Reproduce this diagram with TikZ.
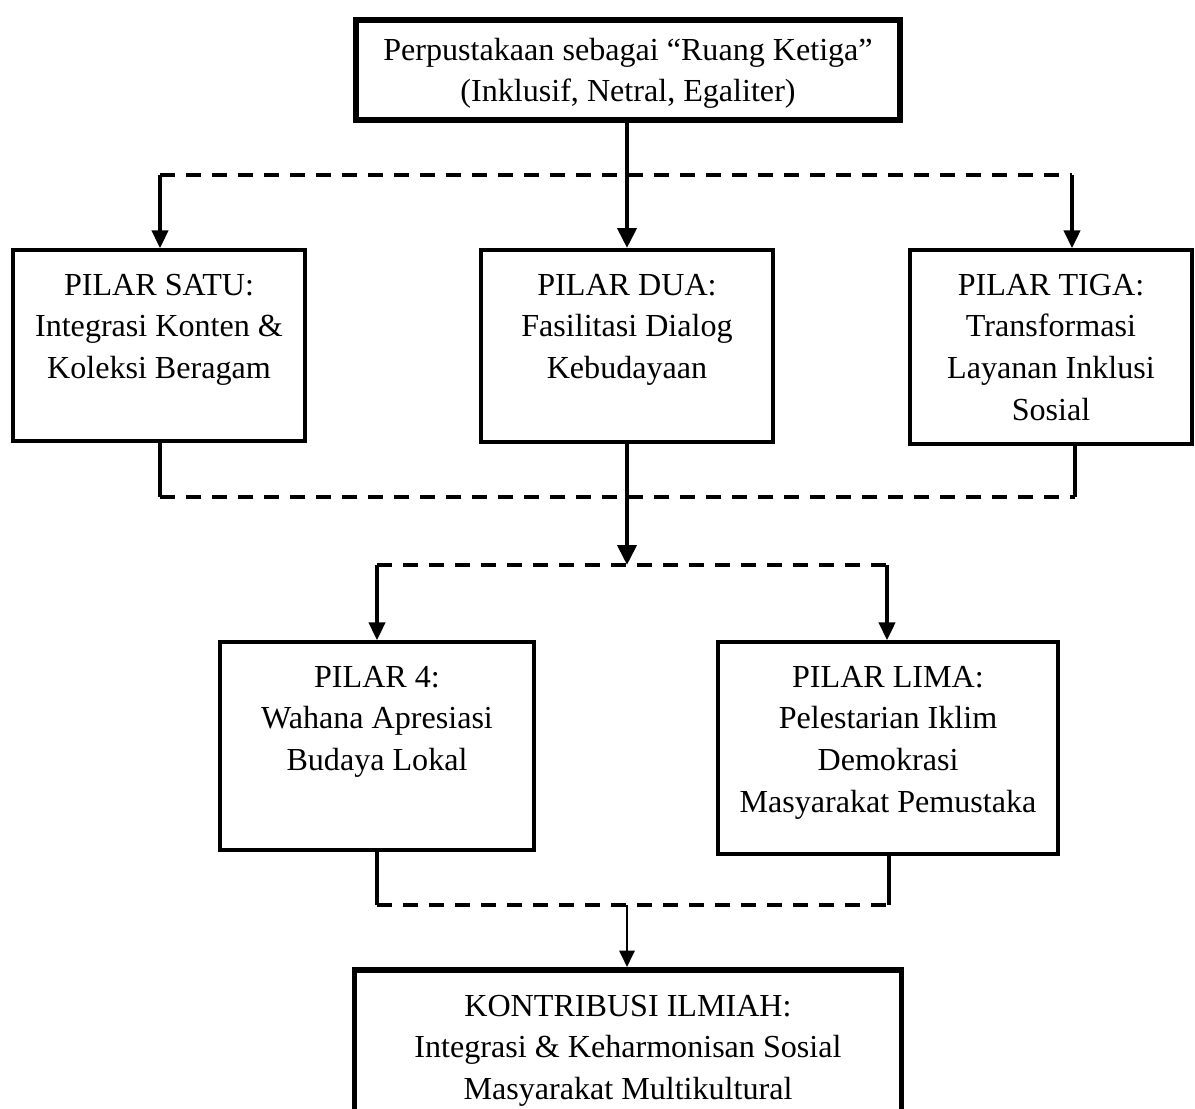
\documentclass[tikz,border=0pt]{standalone}
\usepackage{fontspec}
\setmainfont{Liberation Serif}
\usepackage{tikz}
\usetikzlibrary{calc,arrows.meta,positioning}
\newcommand{\px}[1]{\dimexpr0.015cm*#1\relax}
\newcommand{\boxtext}[4]{\parbox[t][\px{#2}][t]{\px{#1}}{\centering\vspace*{\px{#3}}\strut#4}}

\begin{document}
\begin{tikzpicture}[x=0.015cm,y=-0.015cm]
    \tikzset{box/.style={draw,line width=1.7pt,inner sep=0pt,anchor=north,font=\fontsize{13.7}{17.8}\selectfont},
        mainbox/.style={box,line width=2.5pt},
        bus/.style={line width=1.6pt,dash pattern=on 6.4pt off 4.7pt},
        riser/.style={line width=1.3pt},
        drop/.style={line width=1.3pt,-{Triangle[width=7pt,length=7.5pt]}},
        trunk/.style={line width=1.9pt,-{Triangle[width=8pt,length=8.5pt]}},
        feed/.style={line width=1pt,-{Triangle[width=6.5pt,length=7pt]}},}
    \useasboundingbox (0,0) rectangle (1195,1109);
    \node[mainbox] (ruang) at (628,17) {\boxtext{544}{100}{11}{Perpustakaan sebagai “Ruang Ketiga”\\(Inklusif, Netral, Egaliter)}};
    \node[box] (p1) at (159,248) {\boxtext{292}{191}{16}{PILAR SATU:\\Integrasi Konten \&\\Koleksi Beragam}};
    \node[box] (p2) at (627,248) {\boxtext{292}{192}{16}{PILAR DUA:\\Fasilitasi Dialog\\Kebudayaan}};
    \node[box] (p3) at (1051,248) {\boxtext{282}{194}{16}{PILAR TIGA:\\Transformasi\\Layanan Inklusi\\Sosial}};
    \node[box] (p4) at (377,640) {\boxtext{314}{208}{16}{PILAR 4:\\Wahana Apresiasi\\Budaya Lokal}};
    \node[box] (p5) at (888,640) {\boxtext{340}{212}{16}{PILAR LIMA:\\Pelestarian Iklim\\Demokrasi\\Masyarakat Pemustaka}};
    \node[mainbox] (kontrib) at (628,967) {\boxtext{547}{160}{17}{KONTRIBUSI ILMIAH:\\Integrasi \& Keharmonisan Sosial\\Masyarakat Multikultural}};

    \coordinate (t1) at (160,175);
    \coordinate (t3) at (1072,175);
    \coordinate (m1) at (160,497);
    \coordinate (m3) at (1075,497);
    \coordinate (b2) at (627,565);
    \coordinate (b4) at (377,565);
    \coordinate (b5) at (887,565);
    \coordinate (l4) at (377,905);
    \coordinate (l5) at (889,905);
    \coordinate (k) at (627,905);

    \draw[trunk] (ruang.south -| p2.north) -- (p2.north);
    \draw[bus] (t1) -- (t3);
    \draw[drop] (t1) -- (t1 |- p1.north);
    \draw[drop] (t3) -- (t3 |- p3.north);
    \draw[riser] (m1 |- p1.south) -- (m1);
    \draw[riser] (m3 |- p3.south) -- (m3);
    \draw[bus] (m1) -- (m3);
    \draw[trunk] (p2.south) -- (b2);
    \draw[bus] (b4) -- (b5);
    \draw[drop] (b4) -- (b4 |- p4.north);
    \draw[drop] (b5) -- (b5 |- p5.north);
    \draw[riser] (l4 |- p4.south) -- (l4);
    \draw[riser] (l5 |- p5.south) -- (l5);
    \draw[bus] (l4) -- (l5);
    \draw[feed] (k) -- (k |- kontrib.north);
\end{tikzpicture}
\end{document}
